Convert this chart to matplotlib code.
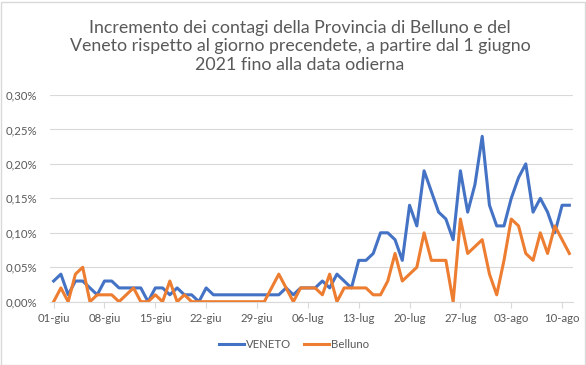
import matplotlib
matplotlib.use("Agg")
import matplotlib.pyplot as plt
from matplotlib.ticker import FuncFormatter, FixedLocator
from matplotlib.patches import Rectangle

plt.rcParams['font.family'] = ['Lato', 'DejaVu Sans']

title = ("Incremento dei contagi della Provincia di Belluno e del\n"
         "Veneto rispetto al giorno precendete, a partire dal 1 giugno\n"
         "2021 fino alla data odierna")

# daily increments (%), 1 June .. 11 August 2021
veneto = [0.03, 0.04, 0.01, 0.03, 0.03, 0.02, 0.01, 0.03, 0.03, 0.02,
          0.02, 0.02, 0.02, 0.00, 0.02, 0.02, 0.01, 0.02, 0.01, 0.01,
          0.00, 0.02, 0.01, 0.01, 0.01, 0.01, 0.01, 0.01, 0.01, 0.01,
          0.01, 0.01, 0.02, 0.01, 0.02, 0.02, 0.02, 0.03, 0.02, 0.04,
          0.03, 0.02, 0.06, 0.06, 0.07, 0.10, 0.10, 0.09, 0.06, 0.14,
          0.11, 0.19, 0.16, 0.13, 0.12, 0.09, 0.19, 0.13, 0.17, 0.24,
          0.14, 0.11, 0.11, 0.15, 0.18, 0.20, 0.13, 0.15, 0.13, 0.10,
          0.14, 0.14]
belluno = [0.00, 0.02, 0.00, 0.04, 0.05, 0.00, 0.01, 0.01, 0.01, 0.00,
           0.01, 0.02, 0.00, 0.00, 0.01, 0.00, 0.03, 0.00, 0.01, 0.00,
           0.00, 0.00, 0.00, 0.00, 0.00, 0.00, 0.00, 0.00, 0.00, 0.00,
           0.02, 0.04, 0.02, 0.00, 0.02, 0.02, 0.02, 0.01, 0.04, 0.00,
           0.02, 0.02, 0.02, 0.02, 0.01, 0.01, 0.03, 0.07, 0.03, 0.04,
           0.05, 0.10, 0.06, 0.06, 0.06, 0.00, 0.12, 0.07, 0.08, 0.09,
           0.04, 0.01, 0.06, 0.12, 0.11, 0.07, 0.06, 0.10, 0.07, 0.11,
           0.09, 0.07]
tick_labels = ['01-giu', '08-giu', '15-giu', '22-giu', '29-giu', '06-lug',
               '13-lug', '20-lug', '27-lug', '03-ago', '10-ago']
y_ticks = [0.00, 0.05, 0.10, 0.15, 0.20, 0.25, 0.30]
series_names = ['VENETO', 'Belluno']

W, H = 586, 365
fig = plt.figure(figsize=(W / 100, H / 100), dpi=100)
fig.patch.set_facecolor('white')
fig.patches.append(Rectangle((0.5 / W, 0.5 / H), (W - 2) / W, (H - 2.5) / H,
                             transform=fig.transFigure, fill=False,
                             edgecolor='#D9D9D9', linewidth=1))

left, right, top, bottom = 50, 573, 95, 301.7
ax = fig.add_axes([left / W, 1 - bottom / H, (right - left) / W, (bottom - top) / H])

days = list(range(len(veneto)))
ax.plot(days, veneto, color='#4472C4', linewidth=2.2, label=series_names[0],
        solid_joinstyle='round', zorder=3)
ax.plot(days, belluno, color='#ED7D31', linewidth=2.2, label=series_names[1],
        solid_joinstyle='round', zorder=3)

ax.set_xlim(-0.5, len(veneto) - 0.5)
ax.set_ylim(0, 0.30)
ax.yaxis.set_major_locator(FixedLocator(y_ticks))
ax.yaxis.set_major_formatter(FuncFormatter(lambda v, p: f"{v:.2f}%".replace('.', ',')))
ax.set_xticks([7 * i for i in range(len(tick_labels))])
ax.set_xticklabels(tick_labels)

ax.grid(axis='y', color='#D9D9D9', linewidth=0.8)
ax.set_axisbelow(True)
for s in ['top', 'right', 'left']:
    ax.spines[s].set_visible(False)
ax.spines['bottom'].set_color('#D9D9D9')
ax.spines['bottom'].set_linewidth(0.8)
ax.tick_params(axis='y', length=0, pad=9, labelsize=8.2, labelcolor='#595959')
ax.tick_params(axis='x', length=4, width=0.8, color='#D9D9D9', pad=4,
               labelsize=8.2, labelcolor='#595959')

fig.text(0.512, 1 - 46.5 / H, title, ha='center', va='center', fontsize=12.8,
         color='#595959', linespacing=1.2)

fig.legend(loc='center', bbox_to_anchor=(294 / W, 1 - 344 / H), ncol=2,
           frameon=False, fontsize=8.2, handlelength=2.2, handletextpad=0.2,
           columnspacing=1.1, labelcolor='#595959')

fig.savefig('out.png', dpi=100)
